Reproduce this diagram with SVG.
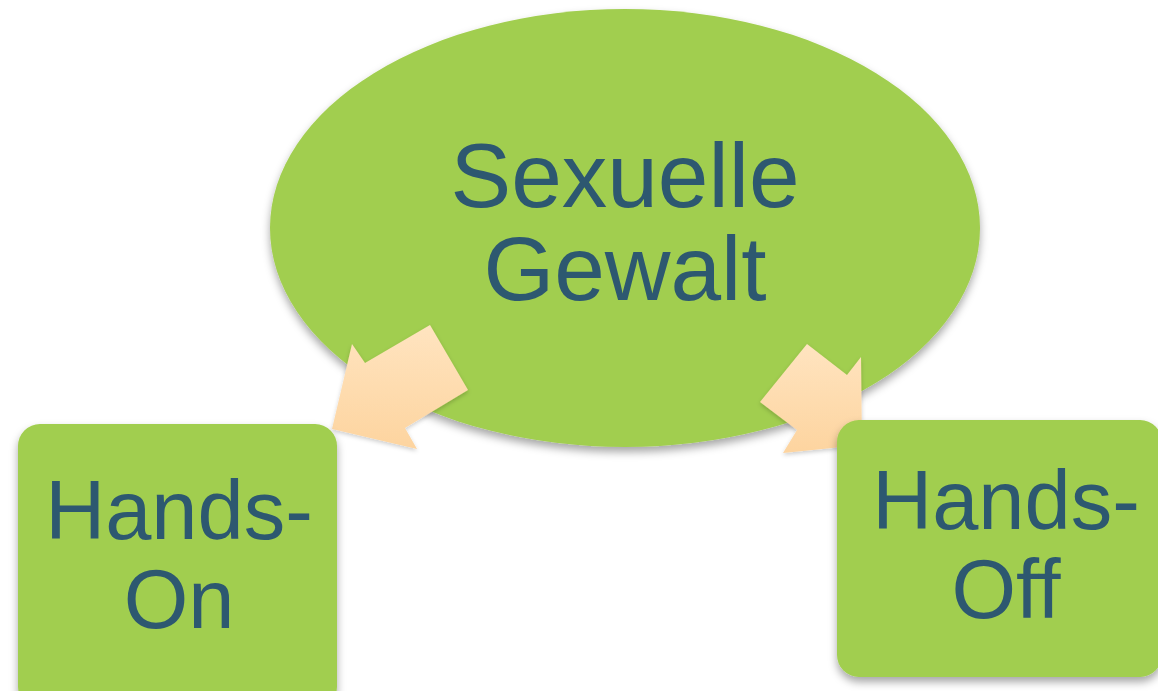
<svg xmlns="http://www.w3.org/2000/svg" width="1158" height="691" viewBox="0 0 1158 691">
  <defs>
    <filter id="shadow" x="-10%" y="-10%" width="120%" height="130%">
      <feDropShadow dx="0" dy="5" stdDeviation="4" flood-color="#000" flood-opacity="0.35"/>
    </filter>
    <filter id="ashadow" x="-10%" y="-10%" width="120%" height="130%">
      <feDropShadow dx="0" dy="2" stdDeviation="2" flood-color="#000" flood-opacity="0.2"/>
    </filter>
    <linearGradient id="peach" x1="0" y1="0" x2="0" y2="1">
      <stop offset="0" stop-color="#FFE4C0"/>
      <stop offset="1" stop-color="#FDD49F"/>
    </linearGradient>
    <style>
      .node { fill: #A1CE4F; filter: url(#shadow); }
      .arrow { fill: url(#peach); filter: url(#ashadow); }
      .label { font-family: "Liberation Sans", Arial, sans-serif; fill: #2D5870; text-anchor: middle; }
    </style>
  </defs>
  <rect width="1158" height="691" fill="#FFFFFF"/>
  <g id="sexuelle-gewalt">
    <ellipse class="node" cx="625" cy="228" rx="355" ry="219"/>
    <text class="label" font-size="91" x="625" y="207">Sexuelle</text>
    <text class="label" font-size="91" x="625" y="300">Gewalt</text>
  </g>
  <g id="connectors">
    <polygon class="arrow" points="430,325 468,390 405,428 417,449 332,429 352,344 365,363"/>
    <polygon class="arrow" points="807,344 847,375 861,357 862,445 783,453 797,430 760,402"/>
  </g>
  <g id="hands-on">
    <rect class="node" x="18" y="424" width="319" height="285" rx="22" ry="22"/>
    <text class="label" font-size="83" x="179" y="539">Hands-</text>
    <text class="label" font-size="83" x="179" y="628">On</text>
  </g>
  <g id="hands-off">
    <rect class="node" x="837" y="420" width="325" height="257" rx="22" ry="22"/>
    <text class="label" font-size="83" x="1006" y="529">Hands-</text>
    <text class="label" font-size="83" x="1006" y="618">Off</text>
  </g>
</svg>
